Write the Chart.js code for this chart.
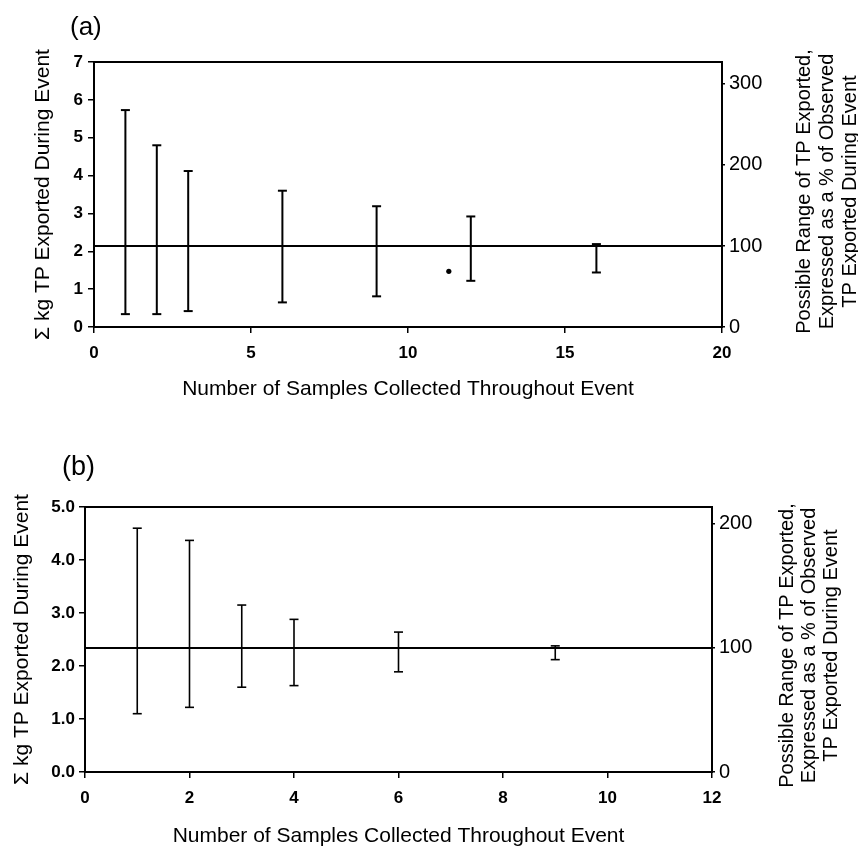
<!DOCTYPE html>
<html>
<head>
<meta charset="utf-8">
<title>TP export ranges</title>
<script src="https://cdn.jsdelivr.net/npm/chart.js@4/dist/chart.umd.min.js"></script>
<style>
  html, body { margin: 0; padding: 0; background: #fff; }
  #wrap { position: relative; width: 858px; height: 846px; }
  canvas { position: absolute; left: 0; }
  #cA { top: 0; }
  #cB { top: 420px; }
</style>
</head>
<body>
<div id="wrap">
  <canvas id="cA" width="858" height="420"></canvas>
  <canvas id="cB" width="858" height="426"></canvas>
</div>
<script>
// ---- Panel (a) ----
const samplesA = [1, 2, 3, 6, 9, 12, 16];
const lowA     = [0.34, 0.34, 0.42, 0.65, 0.81, 1.22, 1.44];
const highA    = [5.73, 4.80, 4.12, 3.60, 3.19, 2.92, 2.19];
const observedA = 2.14;            // kg TP actually exported (100 %)
const markerXA = [11.3];
const markerYA = [1.47];
const xTicksA  = [0, 5, 10, 15, 20];
const yTicksA  = [0, 1, 2, 3, 4, 5, 6, 7];
const pctTicksA = [0, 100, 200, 300];

// ---- Panel (b) ----
const samplesB = [1, 2, 3, 4, 6, 9];
const lowB     = [1.10, 1.22, 1.60, 1.63, 1.89, 2.12];
const highB    = [4.60, 4.37, 3.15, 2.88, 2.64, 2.38];
const observedB = 2.34;
const xTicksB  = [0, 2, 4, 6, 8, 10, 12];
const yTicksB  = [0, 1, 2, 3, 4, 5];
const pctTicksB = [0, 100, 200];

// ---- Text ----
const xTitle = 'Number of Samples Collected Throughout Event';
const yTitle = '\u03A3 kg TP Exported During Event';
const rightTitle = [
  'Possible Range of TP Exported,',
  'Expressed as a % of Observed',
  'TP Exported During Event'
];

const FONT = 'Arial, "Liberation Sans", Helvetica, sans-serif';
const INK = '#000';

// vertical range lines with flat caps, one gap between each range
function rangeSeries(xs, lo, hi) {
  const pts = [];
  xs.forEach((x, i) => {
    pts.push({ x: x, y: lo[i] });
    pts.push({ x: x, y: hi[i] });
    pts.push({ x: x, y: null });
  });
  return pts;
}

// frame, panel letter and the right-hand (rotated) title
const decor = {
  id: 'decor',
  afterDraw(chart, args, o) {
    const { ctx, chartArea: a } = chart;
    ctx.save();
    ctx.strokeStyle = INK;
    ctx.lineWidth = o.frameWidth;
    ctx.strokeRect(a.left, a.top, a.right - a.left, a.bottom - a.top);

    ctx.fillStyle = INK;
    ctx.font = o.panelSize + 'px ' + FONT;
    ctx.textAlign = 'left';
    ctx.textBaseline = 'middle';
    ctx.fillText(o.panel, o.panelX, o.panelY);

    ctx.font = o.rightSize + 'px ' + FONT;
    ctx.translate(a.right + o.rightDx, (a.top + a.bottom) / 2 + o.rightDy);
    ctx.rotate(-Math.PI / 2);
    ctx.textAlign = 'center';
    const n = rightTitle.length;
    rightTitle.forEach((line, i) => {
      ctx.fillText(line, 0, (i - (n - 1) / 2) * o.lineGap);
    });
    ctx.restore();
  }
};

function makeChart(canvasId, cfg) {
  const yMax = cfg.yTicks[cfg.yTicks.length - 1];
  const xMin = cfg.xTicks[0], xMax = cfg.xTicks[cfg.xTicks.length - 1];
  const datasets = [
    {
      // observed export (100 %)
      data: [{ x: xMin, y: cfg.observed }, { x: xMax, y: cfg.observed }],
      showLine: true,
      borderColor: INK,
      borderWidth: cfg.refWidth,
      pointRadius: 0
    },
    {
      data: rangeSeries(cfg.samples, cfg.low, cfg.high),
      showLine: true,
      spanGaps: false,
      borderColor: INK,
      borderWidth: cfg.barWidth,
      pointStyle: 'line',
      pointRadius: cfg.capRadius,
      pointBorderColor: INK,
      pointBorderWidth: cfg.barWidth,
      pointBackgroundColor: INK
    }
  ];
  if (cfg.markerX) {
    datasets.push({
      data: cfg.markerX.map((x, i) => ({ x: x, y: cfg.markerY[i] })),
      showLine: false,
      pointStyle: 'circle',
      pointRadius: 2.6,
      pointBackgroundColor: INK,
      pointBorderColor: INK,
      pointBorderWidth: 0
    });
  }

  const tickFont = { family: FONT, size: 17, weight: 'bold' };
  const titleFont = { family: FONT, size: 21 };

  return new Chart(document.getElementById(canvasId), {
    type: 'scatter',
    data: { datasets },
    plugins: [decor],
    options: {
      responsive: false,
      animation: false,
      devicePixelRatio: 1,
      events: [],
      layout: { padding: { left: 0, right: 0, top: cfg.top, bottom: 0 } },
      plugins: {
        legend: { display: false },
        tooltip: { enabled: false },
        decor: cfg.decor
      },
      scales: {
        x: {
          type: 'linear',
          min: xMin, max: xMax,
          afterBuildTicks: s => { s.ticks = cfg.xTicks.map(v => ({ value: v })); },
          afterFit: s => { s.height = cfg.xAxisHeight; },
          grid: { drawOnChartArea: false, drawTicks: true, tickLength: 6, color: INK, lineWidth: 1.5 },
          border: { display: true, color: INK, width: 2 },
          ticks: { color: INK, font: tickFont, padding: 10, maxRotation: 0 },
          title: { display: true, text: xTitle, color: INK, font: titleFont,
                   padding: { top: 0, bottom: cfg.xTitlePad } }
        },
        y: {
          type: 'linear', position: 'left',
          min: 0, max: yMax,
          afterBuildTicks: s => { s.ticks = cfg.yTicks.map(v => ({ value: v })); },
          afterFit: s => { s.width = cfg.leftWidth; },
          grid: { drawOnChartArea: false, drawTicks: true, tickLength: 6, color: INK, lineWidth: 1.5 },
          border: { display: true, color: INK, width: 2 },
          ticks: { color: INK, font: tickFont, padding: cfg.leftPad,
                   callback: v => v.toFixed(cfg.yDecimals) },
          title: { display: true, text: yTitle, color: INK, font: titleFont,
                   padding: { top: cfg.yTitlePad, bottom: 0 } }
        },
        pct: {
          type: 'linear', position: 'right',
          min: 0, max: yMax / cfg.observed * 100,
          afterBuildTicks: s => { s.ticks = cfg.pctTicks.map(v => ({ value: v })); },
          afterFit: s => { s.width = cfg.rightWidth; },
          grid: { drawOnChartArea: false, drawTicks: true, tickLength: 3, color: INK, lineWidth: 1.5 },
          border: { display: true, color: INK, width: 2 },
          ticks: { color: INK, font: { family: FONT, size: 20 }, padding: 4 }
        }
      }
    }
  });
}

makeChart('cA', {
  samples: samplesA, low: lowA, high: highA, observed: observedA,
  markerX: markerXA, markerY: markerYA,
  xTicks: xTicksA, yTicks: yTicksA, pctTicks: pctTicksA, yDecimals: 0,
  top: 62, xAxisHeight: 93, leftWidth: 94, rightWidth: 136,
  xTitlePad: 18, yTitlePad: 31, leftPad: 5,
  barWidth: 2, capRadius: 4.5, refWidth: 2,
  decor: { frameWidth: 2, panel: '(a)', panelSize: 26, panelX: 70, panelY: 28,
           rightSize: 20, rightDx: 105, rightDy: -3, lineGap: 23 }
});

makeChart('cB', {
  samples: samplesB, low: lowB, high: highB, observed: observedB,
  xTicks: xTicksB, yTicks: yTicksB, pctTicks: pctTicksB, yDecimals: 1,
  top: 87, xAxisHeight: 74, leftWidth: 85, rightWidth: 146,
  xTitlePad: -3, yTitlePad: 10, leftPad: 4,
  barWidth: 1.6, capRadius: 4.5, refWidth: 2,
  decor: { frameWidth: 2, panel: '(b)', panelSize: 27, panelX: 62, panelY: 48,
           rightSize: 20, rightDx: 97, rightDy: 6, lineGap: 22 }
});
</script>
</body>
</html>
